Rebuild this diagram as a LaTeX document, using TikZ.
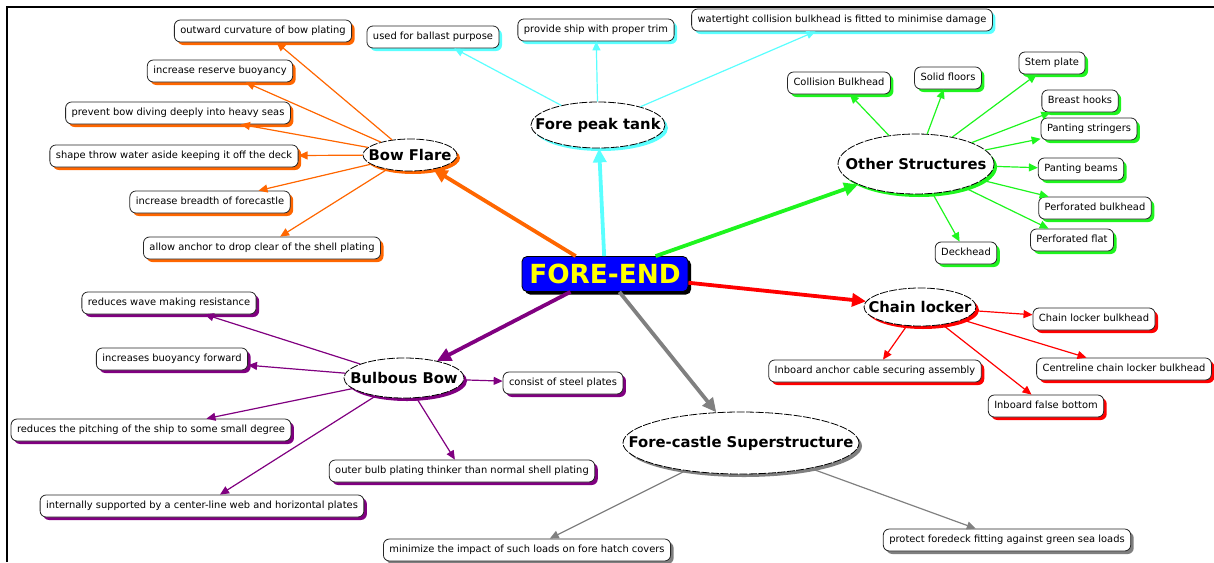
\documentclass[tikz,border=0pt]{standalone}
\usepackage{fontspec}
\setmainfont{DejaVu Sans}
\usetikzlibrary{shapes.geometric,shadows,arrows.meta}
\definecolor{cOr}{RGB}{255,102,0}
\definecolor{cCy}{RGB}{90,255,255}
\definecolor{cGr}{RGB}{30,245,30}
\definecolor{cRd}{RGB}{255,0,0}
\definecolor{cPu}{RGB}{128,0,128}
\definecolor{cGy}{RGB}{128,128,128}
\definecolor{cBl}{RGB}{0,0,255}
\definecolor{cYe}{RGB}{255,255,0}
\begin{document}
\begin{tikzpicture}[x=1pt,y=-1pt,
  leaf/.style={draw=black!85, fill=white, rounded corners=6pt, line width=0.8pt,
    font=\fontsize{9.9}{11}\selectfont, inner xsep=6pt, inner ysep=0pt,
    minimum height=22pt, text height=7.3pt, text depth=2pt},
  sh/.style={drop shadow={fill=#1, opacity=1, shadow xshift=3pt, shadow yshift=-3pt}},
  hub/.style={ellipse, draw=black, fill=white, line width=0.8pt,
    dash pattern=on 8pt off 1.5pt, inner xsep=-60pt, inner ysep=-10pt,
    font=\bfseries\fontsize{14.8}{16}\selectfont},
  fore/.style={fill=cBl, draw=black, line width=0.8pt, rounded corners=5pt,
    text=cYe, font=\bfseries\fontsize{26.3}{28}\selectfont,
    minimum width=166pt, minimum height=35pt, inner sep=0pt,
    drop shadow={fill=black, opacity=1, shadow xshift=3pt, shadow yshift=-3pt}},
  thin/.style={draw=#1, line width=1.2pt, -{Triangle[length=9pt,width=8pt]}},
  thick/.style={draw=#1, line width=3.8pt, -{Triangle[length=14pt,width=13pt]}}
]
\useasboundingbox (0,0) rectangle (1214,562);
\draw[line width=2.5pt] (7,562) -- (7,7) -- (1214,7);

% central
\node[fore] (fe) at (605,274) {FORE-END};

% hubs
\node[hub, sh=cOr, minimum width=94pt, minimum height=32pt] (bf) at (410,155) {Bow Flare};
\node[hub, sh=cCy, minimum width=134pt, minimum height=46pt] (fp) at (598,125) {Fore peak tank};
\node[hub, sh=cGr, minimum width=156pt, minimum height=60pt] (os) at (916,164) {Other Structures};
\node[hub, sh=cRd, minimum width=112pt, minimum height=38pt] (cl) at (920,307) {Chain locker};
\node[hub, sh=cPu, minimum width=120pt, minimum height=40pt] (bb) at (404,378) {Bulbous Bow};
\node[hub, sh=cGy, minimum width=236pt, minimum height=62pt] (fc) at (741,443) {Fore-castle Superstructure};

% orange leaves
\node[leaf, sh=cOr] (o1) at (263,31) {outward curvature of bow plating};
\node[leaf, sh=cOr] (o2) at (220,71) {increase reserve buoyancy};
\node[leaf, sh=cOr] (o3) at (178,113) {prevent bow diving deeply into heavy seas};
\node[leaf, sh=cOr] (o4) at (174,156) {shape throw water aside keeping it off the deck};
\node[leaf, sh=cOr] (o5) at (210,202) {increase breadth of forecastle};
\node[leaf, sh=cOr] (o6) at (262,248) {allow anchor to drop clear of the shell plating};

% cyan leaves
\node[leaf, sh=cCy] (c1) at (433,37) {used for ballast purpose};
\node[leaf, sh=cCy] (c2) at (596,30) {provide ship with proper trim};
\node[leaf, sh=cCy] (c3) at (842,20) {watertight collision bulkhead is fitted to minimise damage};

% green leaves
\node[leaf, sh=cGr] (g1) at (839,83) {Collision Bulkhead};
\node[leaf, sh=cGr] (g2) at (948,78) {Solid floors};
\node[leaf, sh=cGr] (g3) at (1052,63) {Stem plate};
\node[leaf, sh=cGr] (g4) at (1080,101) {Breast hooks};
\node[leaf, sh=cGr] (g5) at (1089,129) {Panting stringers};
\node[leaf, sh=cGr] (g6) at (1081,169) {Panting beams};
\node[leaf, sh=cGr] (g7) at (1095,208) {Perforated bulkhead};
\node[leaf, sh=cGr] (g8) at (1072,240) {Perforated flat};
\node[leaf, sh=cGr] (g9) at (966,253) {Deckhead};

% red leaves
\node[leaf, sh=cRd] (r1) at (1094,319) {Chain locker bulkhead};
\node[leaf, sh=cRd] (r2) at (1124,369) {Centreline chain locker bulkhead};
\node[leaf, sh=cRd] (r3) at (1046,406) {Inboard false bottom};
\node[leaf, sh=cRd] (r4) at (875,371) {Inboard anchor cable securing assembly};

% purple leaves
\node[leaf, sh=cPu] (p1) at (169,303) {reduces wave making resistance};
\node[leaf, sh=cPu] (p2) at (172,359) {increases buoyancy forward};
\node[leaf, sh=cPu] (p3) at (151,430) {reduces the pitching of the ship to some small degree};
\node[leaf, sh=cPu] (p4) at (202,506) {internally supported by a center-line web and horizontal plates};
\node[leaf, sh=cPu] (p5) at (462,471) {outer bulb plating thinker than normal shell plating};
\node[leaf, sh=cPu] (p6) at (563,383) {consist of steel plates};

% gray leaves
\node[leaf, sh=cGy] (y1) at (527,550) {minimize the impact of such loads on fore hatch covers};
\node[leaf, sh=cGy] (y2) at (1007,540) {protect foredeck fitting against green sea loads};

% thick connectors
\draw[thick=cOr] (fe) -- (bf);
\draw[thick=cCy] (fe) -- (fp);
\draw[thick=cGr] (fe) -- (os);
\draw[thick=cRd] (fe) -- (cl);
\draw[thick=cPu] (fe) -- (bb);
\draw[thick=cGy] (fe) -- (fc);

% thin connectors
\foreach \t in {o1,o2,o3,o4,o5,o6} \draw[thin=cOr] (bf) -- (\t);
\foreach \t in {c1,c2,c3} \draw[thin=cCy] (fp) -- (\t);
\foreach \t in {g1,g2,g3,g4,g5,g6,g7,g8,g9} \draw[thin=cGr] (os) -- (\t);
\foreach \t in {r1,r2,r3,r4} \draw[thin=cRd] (cl) -- (\t);
\foreach \t in {p1,p2,p3,p4,p5,p6} \draw[thin=cPu] (bb) -- (\t);
\foreach \t in {y1,y2} \draw[thin=cGy] (fc) -- (\t);
\end{tikzpicture}
\end{document}
